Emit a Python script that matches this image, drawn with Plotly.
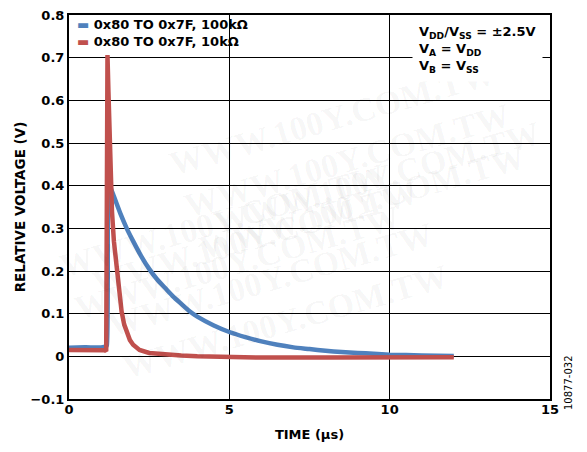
import plotly.graph_objects as go

# ---- data ----
t_100k = [0.0, 0.5, 1.0, 1.15, 1.18, 1.21, 1.24, 1.28, 1.4, 1.6, 1.8, 2.0, 2.25, 2.5, 2.75,
          3.0, 3.25, 3.5, 3.77, 4.0, 4.5, 5.0, 5.5, 6.0, 6.5, 7.0, 7.5, 8.0, 8.5, 9.0, 9.5,
          10.0, 11.0, 12.0]
v_100k = [0.020, 0.021, 0.021, 0.023, 0.026, 0.40, 0.52, 0.40, 0.375, 0.335, 0.30, 0.27,
          0.235, 0.205, 0.18, 0.16, 0.14, 0.123, 0.105, 0.093, 0.073, 0.057, 0.045, 0.035,
          0.027, 0.021, 0.017, 0.013, 0.010, 0.008, 0.006, 0.004, 0.002, 0.001]

t_10k = [0.0, 0.5, 1.0, 1.12, 1.16, 1.18, 1.20, 1.23, 1.27, 1.30, 1.34, 1.40, 1.49, 1.56,
         1.64, 1.72, 1.80, 1.90, 2.0, 2.2, 2.5, 3.0, 3.5, 4.0, 5.0, 6.0, 8.0, 10.0, 12.0]
v_10k = [0.015, 0.015, 0.015, 0.014, 0.012, 0.70, 0.706, 0.62, 0.50, 0.42, 0.34, 0.27, 0.20,
         0.15, 0.105, 0.075, 0.055, 0.038, 0.027, 0.015, 0.008, 0.004, 0.002, 0.0, -0.002,
         -0.003, -0.003, -0.003, -0.002]

x_ticks = [0, 5, 10, 15]
x_ticktext = ["0", "5", "10", "15"]
y_ticks = [-0.1, 0, 0.1, 0.2, 0.3, 0.4, 0.5, 0.6, 0.7, 0.8]
y_ticktext = ["\u22120.1", "0", "0.1", "0.2", "0.3", "0.4", "0.5", "0.6", "0.7", "0.8"]

series_names = ["0x80 TO 0x7F, 100k\u03a9", "0x80 TO 0x7F, 10k\u03a9"]
blue = "#4F81BD"
red = "#C0504D"

FONT = "DejaVu Sans"

fig = go.Figure()
fig.add_trace(go.Scatter(x=t_100k, y=v_100k, mode="lines", name=series_names[0],
                         line=dict(color=blue, width=4.5, shape="spline", smoothing=0.5)))
fig.add_trace(go.Scatter(x=t_10k, y=v_10k, mode="lines", name=series_names[1],
                         line=dict(color=red, width=4.5)))

# page is offset by the browser's 8px body margin
OFF = 8
W, H = 587 - OFF, 452 - OFF
ML, MR, MT, MB = 69 - OFF, 37, 15 - OFF, 53
PW, PH = W - ML - MR, H - MT - MB


def px(xp):
    return (xp - OFF - ML) / PW


def py(yp):
    return (H - MB - (yp - OFF)) / PH


annotations = []
# watermark rows (page pixel centres)
wm_pos = [(332, 52), (347, 94), (362, 136), (377, 178), (392, 220), (407, 262),
          (425, 304), (440, 346), (455, 388)]
for (wx, wy) in wm_pos:
    annotations.append(dict(x=px(wx), y=py(wy), xref="paper", yref="paper",
                            text="WWW.100Y.COM.TW", showarrow=False, textangle=-16,
                            font=dict(family="Liberation Serif", size=34,
                                      color="rgba(0,0,0,0.045)", weight="bold")))

# legend
annotations.append(dict(
    x=px(75), y=py(15), xref="paper", yref="paper", xanchor="left", yanchor="top",
    align="left", showarrow=False,
    text=(f"<span style='color:{blue}'>\u25ac</span> {series_names[0]}<br>"
          f"<span style='color:{red}'>\u25ac</span> {series_names[1]}"),
    font=dict(family=FONT, size=13, color="black", weight="bold")))

# conditions box
annotations.append(dict(
    x=px(412), y=py(17), xref="paper", yref="paper", xanchor="left", yanchor="top",
    align="left", showarrow=False, bgcolor="white", borderpad=6,
    text=("V<sub>DD</sub>/V<sub>SS</sub> = \u00b12.5V<br>V<sub>A</sub> = V<sub>DD</sub>"
          "<br>V<sub>B</sub> = V<sub>SS</sub>"),
    font=dict(family=FONT, size=13, color="black", weight="bold")))

# figure code
annotations.append(dict(
    x=px(576), y=py(412), xref="paper", yref="paper", showarrow=False, textangle=-90,
    text="10877-032", font=dict(family=FONT, size=10, color="black")))

fig.update_layout(
    width=W, height=H,
    margin=dict(l=ML, r=MR, t=MT, b=MB, pad=0, autoexpand=False),
    paper_bgcolor="white", plot_bgcolor="white",
    showlegend=False,
    font=dict(family=FONT, color="black"),
    annotations=annotations,
    xaxis=dict(range=[0, 15], tickvals=x_ticks, ticktext=x_ticktext, automargin=False,
               showgrid=True, gridcolor="black", gridwidth=1, zeroline=False,
               showline=True, linecolor="black", linewidth=2, mirror=True,
               ticks="", ticklabelstandoff=-3, ticklabeloverflow="allow",
               tickfont=dict(family=FONT, size=13, weight="bold"),
               title=dict(text="TIME (\u00b5s)", standoff=14,
                          font=dict(family=FONT, size=13, weight="bold"))),
    yaxis=dict(range=[-0.1, 0.8], tickvals=y_ticks, ticktext=y_ticktext, automargin=False,
               showgrid=True, gridcolor="black", gridwidth=1, zeroline=False,
               showline=True, linecolor="black", linewidth=2, mirror=True,
               ticks="", ticklabeloverflow="allow",
               tickfont=dict(family=FONT, size=13, weight="bold"),
               title=dict(text="RELATIVE VOLTAGE (V)", standoff=2,
                          font=dict(family=FONT, size=13.5, weight="bold"))),
)

fig.write_html("out.html")
